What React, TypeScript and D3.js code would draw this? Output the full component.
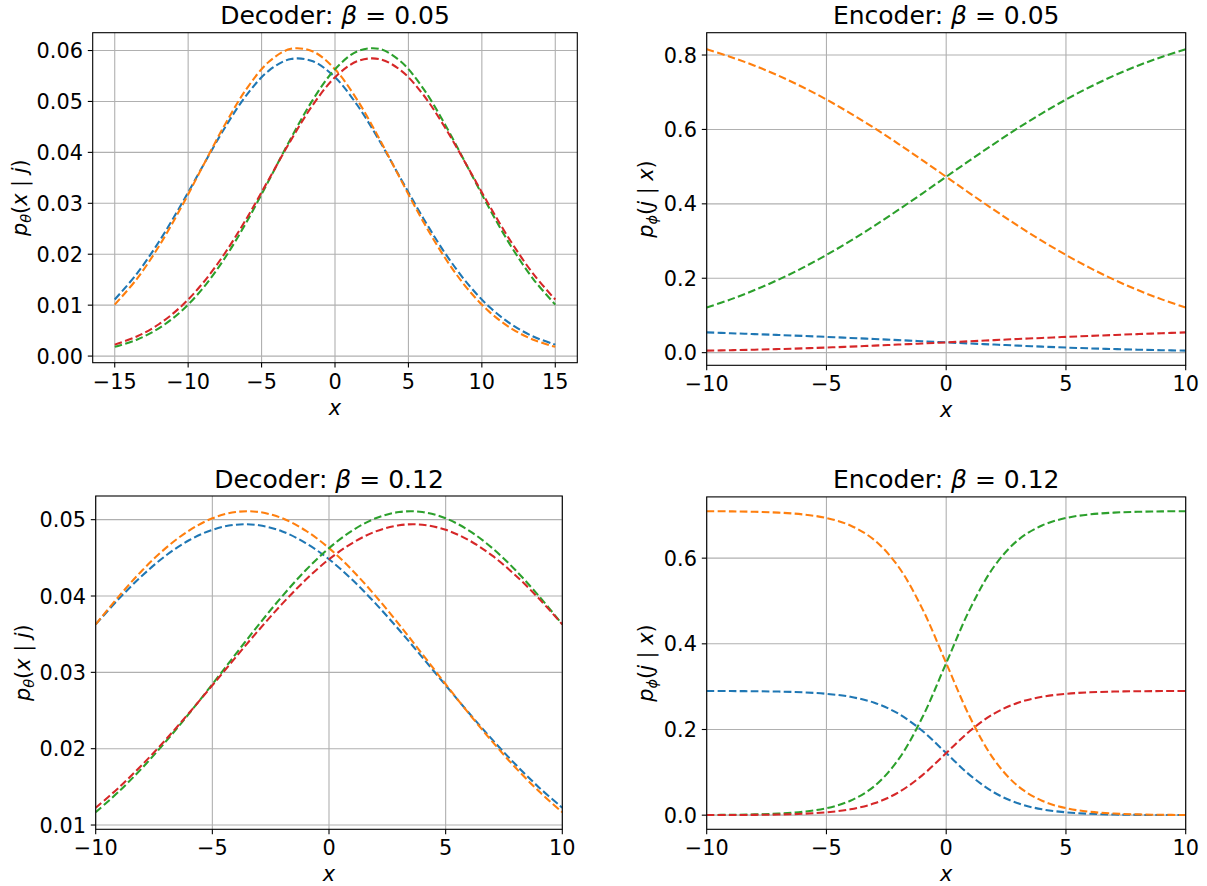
import React from "react";
import * as d3 from "d3";

const COLORS = ["#1f77b4", "#ff7f0e", "#2ca02c", "#d62728"];

// ---------- Decoder beta = 0.05 ----------
const dec05X = [-15, -13.5, -12, -10.5, -9, -7.5, -6, -4.5, -3, -1.5, 0, 1.5, 3, 4.5, 6, 7.5, 9, 10.5, 12, 13.5, 15];
const dec05Blue = [0.0111, 0.01615, 0.0224, 0.02961, 0.03732, 0.04484, 0.05135, 0.05606, 0.05834, 0.05788, 0.05474, 0.04935, 0.04241, 0.03474, 0.02713, 0.02019, 0.01433, 0.00969, 0.00625, 0.00384, 0.00225];
const dec05Orange = [0.0101, 0.01513, 0.02152, 0.02906, 0.03729, 0.04544, 0.05258, 0.05779, 0.06033, 0.05981, 0.05632, 0.05037, 0.04278, 0.03452, 0.02644, 0.01925, 0.0133, 0.00873, 0.00544, 0.00322, 0.00181];
const dec05Green = [0.00181, 0.00322, 0.00544, 0.00873, 0.0133, 0.01925, 0.02644, 0.03452, 0.04278, 0.05037, 0.05632, 0.05981, 0.06033, 0.05779, 0.05258, 0.04544, 0.03729, 0.02906, 0.02152, 0.01513, 0.0101];
const dec05Red = [0.00225, 0.00384, 0.00625, 0.00969, 0.01433, 0.02019, 0.02713, 0.03474, 0.04241, 0.04935, 0.05474, 0.05788, 0.05834, 0.05606, 0.05135, 0.04484, 0.03732, 0.02961, 0.0224, 0.01615, 0.0111];

// ---------- Encoder beta = 0.05 ----------
const encX = [-10, -9, -8, -7, -6, -5, -4, -3, -2, -1, 0, 1, 2, 3, 4, 5, 6, 7, 8, 9, 10];
const enc05Blue = [0.0545, 0.0522, 0.0499, 0.0475, 0.045, 0.0424, 0.0396, 0.0367, 0.0337, 0.0307, 0.0276, 0.0246, 0.0217, 0.0189, 0.0162, 0.0137, 0.0115, 0.0096, 0.008, 0.0066, 0.0055];
const enc05Orange = [0.8153, 0.7949, 0.7713, 0.7444, 0.714, 0.6803, 0.6433, 0.6036, 0.5614, 0.5175, 0.4727, 0.4277, 0.3836, 0.3409, 0.3004, 0.2626, 0.2278, 0.1963, 0.1682, 0.1432, 0.1214];
const enc05Green = [0.1214, 0.1432, 0.1682, 0.1963, 0.2278, 0.2626, 0.3004, 0.3409, 0.3836, 0.4277, 0.4727, 0.5175, 0.5614, 0.6036, 0.6433, 0.6803, 0.714, 0.7444, 0.7713, 0.7949, 0.8153];
const enc05Red = [0.0055, 0.0066, 0.008, 0.0096, 0.0115, 0.0137, 0.0162, 0.0189, 0.0217, 0.0246, 0.0276, 0.0307, 0.0337, 0.0367, 0.0396, 0.0424, 0.045, 0.0475, 0.0499, 0.0522, 0.0545];

// ---------- Decoder beta = 0.12 ----------
const dec12X = [-10, -9, -8, -7, -6, -5, -4, -3, -2, -1, 0, 1, 2, 3, 4, 5, 6, 7, 8, 9, 10];
const dec12Blue = [0.03628, 0.03966, 0.04269, 0.04528, 0.0473, 0.04867, 0.04934, 0.04927, 0.04846, 0.04694, 0.04481, 0.04212, 0.039, 0.03558, 0.03197, 0.0283, 0.02467, 0.02118, 0.01792, 0.01493, 0.01226];
const dec12Orange = [0.03629, 0.03999, 0.04337, 0.04627, 0.04857, 0.05018, 0.051, 0.051, 0.05018, 0.04857, 0.04627, 0.04337, 0.03999, 0.03629, 0.03239, 0.02845, 0.02459, 0.02092, 0.0175, 0.01441, 0.01167];
const dec12Green = [0.01167, 0.01441, 0.0175, 0.02092, 0.02459, 0.02845, 0.03239, 0.03629, 0.03999, 0.04337, 0.04627, 0.04857, 0.05018, 0.051, 0.051, 0.05018, 0.04857, 0.04627, 0.04337, 0.03999, 0.03629];
const dec12Red = [0.01226, 0.01493, 0.01792, 0.02118, 0.02467, 0.0283, 0.03197, 0.03558, 0.039, 0.04212, 0.04481, 0.04694, 0.04846, 0.04927, 0.04934, 0.04867, 0.0473, 0.04528, 0.04269, 0.03966, 0.03628];

// ---------- Encoder beta = 0.12 ----------
const enc12Blue = [0.2898, 0.2897, 0.2893, 0.2885, 0.2868, 0.2833, 0.2763, 0.2624, 0.2371, 0.197, 0.145, 0.093, 0.0529, 0.0276, 0.0137, 0.0067, 0.0032, 0.0015, 0.0007, 0.0003, 0.0002];
const enc12Orange = [0.7096, 0.7092, 0.7082, 0.7063, 0.7022, 0.6937, 0.6763, 0.6423, 0.5805, 0.4822, 0.355, 0.2278, 0.1295, 0.0677, 0.0337, 0.0163, 0.0078, 0.0037, 0.0018, 0.0008, 0.0004];
const enc12Green = [0.0004, 0.0008, 0.0018, 0.0037, 0.0078, 0.0163, 0.0337, 0.0677, 0.1295, 0.2278, 0.355, 0.4822, 0.5805, 0.6423, 0.6763, 0.6937, 0.7022, 0.7063, 0.7082, 0.7092, 0.7096];
const enc12Red = [0.0002, 0.0003, 0.0007, 0.0015, 0.0032, 0.0067, 0.0137, 0.0276, 0.0529, 0.093, 0.145, 0.197, 0.2371, 0.2624, 0.2763, 0.2833, 0.2868, 0.2885, 0.2893, 0.2897, 0.2898];

// ---------- ticks ----------
const xTicks15 = [-15, -10, -5, 0, 5, 10, 15];
const xTicks10 = [-10, -5, 0, 5, 10];
const yTicksDec05 = [0.0, 0.01, 0.02, 0.03, 0.04, 0.05, 0.06];
const yTicksEnc05 = [0.0, 0.2, 0.4, 0.6, 0.8];
const yTicksDec12 = [0.01, 0.02, 0.03, 0.04, 0.05];
const yTicksEnc12 = [0.0, 0.2, 0.4, 0.6];

const FONT = "DejaVu Sans";
const TICK_FS = 20.8;
const LABEL_FS = 20.8;
const TITLE_FS = 25;

type Cfg = {
  id: string;
  kind: "dec" | "enc";
  beta: string;
  xs: number[];
  series: number[][];
  xTicks: number[];
  yTicks: number[];
  yFmt: string;
  xDomain: [number, number];
  yDomain: [number, number];
  left: number;
  right: number;
  top: number;
  bottom: number;
  yLabelX: number;
};

const panels: Cfg[] = [
  {
    id: "p1", kind: "dec", beta: "0.05", xs: dec05X,
    series: [dec05Blue, dec05Orange, dec05Green, dec05Red],
    xTicks: xTicks15, yTicks: yTicksDec05, yFmt: ".2f",
    xDomain: [-16.5, 16.5], yDomain: [-0.0013, 0.0635],
    left: 92.7, right: 577.3, top: 32.7, bottom: 362.7, yLabelX: 27,
  },
  {
    id: "p2", kind: "enc", beta: "0.05", xs: encX,
    series: [enc05Blue, enc05Orange, enc05Green, enc05Red],
    xTicks: xTicks10, yTicks: yTicksEnc05, yFmt: ".1f",
    xDomain: [-10, 10], yDomain: [-0.034, 0.86],
    left: 706.7, right: 1185.7, top: 32.7, bottom: 365.3, yLabelX: 653,
  },
  {
    id: "p3", kind: "dec", beta: "0.12", xs: dec12X,
    series: [dec12Blue, dec12Orange, dec12Green, dec12Red],
    xTicks: xTicks10, yTicks: yTicksDec12, yFmt: ".2f",
    xDomain: [-10, 10], yDomain: [0.00944, 0.0531],
    left: 95.7, right: 562.3, top: 496, bottom: 829.3, yLabelX: 30,
  },
  {
    id: "p4", kind: "enc", beta: "0.12", xs: encX,
    series: [enc12Blue, enc12Orange, enc12Green, enc12Red],
    xTicks: xTicks10, yTicks: yTicksEnc12, yFmt: ".1f",
    xDomain: [-10, 10], yDomain: [-0.033, 0.743],
    left: 706.7, right: 1185.7, top: 496.9, bottom: 829.3, yLabelX: 653,
  },
];

function Panel({ c }: { c: Cfg }) {
  const x = d3.scaleLinear().domain(c.xDomain).range([c.left, c.right]);
  const y = d3.scaleLinear().domain(c.yDomain).range([c.bottom, c.top]);
  const line = d3
    .line<[number, number]>()
    .x((d) => x(d[0]))
    .y((d) => y(d[1]))
    .curve(d3.curveCatmullRom.alpha(0.5));
  const yf = d3.format(c.yFmt);
  const xf = d3.format("d");
  const cx = (c.left + c.right) / 2;
  const cy = (c.top + c.bottom) / 2;
  const tickLen = 4.9;
  const gridColor = "#b0b0b0";
  return (
    <g>
      <defs>
        <clipPath id={"clip-" + c.id}>
          <rect x={c.left} y={c.top} width={c.right - c.left} height={c.bottom - c.top} />
        </clipPath>
      </defs>
      {c.xTicks.map((t) => (
        <line key={"gx" + t} x1={x(t)} x2={x(t)} y1={c.top} y2={c.bottom} stroke={gridColor} strokeWidth={1.1} />
      ))}
      {c.yTicks.map((t) => (
        <line key={"gy" + t} x1={c.left} x2={c.right} y1={y(t)} y2={y(t)} stroke={gridColor} strokeWidth={1.1} />
      ))}
      <g clipPath={`url(#clip-${c.id})`}>
        {c.series.map((s, i) => (
          <path
            key={i}
            d={line(c.xs.map((xv, k) => [xv, s[k]] as [number, number])) || ""}
            fill="none"
            stroke={COLORS[i]}
            strokeWidth={2.08}
            strokeDasharray="7.7 3.3"
          />
        ))}
      </g>
      <rect x={c.left} y={c.top} width={c.right - c.left} height={c.bottom - c.top} fill="none" stroke="#000" strokeWidth={1.1} />
      {c.xTicks.map((t) => (
        <g key={"xt" + t}>
          <line x1={x(t)} x2={x(t)} y1={c.bottom} y2={c.bottom + tickLen} stroke="#000" strokeWidth={1.1} />
          <text x={x(t)} y={c.bottom + 26} textAnchor="middle" fontFamily={FONT} fontSize={TICK_FS} fill="#000">
            {xf(t)}
          </text>
        </g>
      ))}
      {c.yTicks.map((t) => (
        <g key={"yt" + t}>
          <line x1={c.left - tickLen} x2={c.left} y1={y(t)} y2={y(t)} stroke="#000" strokeWidth={1.1} />
          <text x={c.left - 9.8} y={y(t) + 7.5} textAnchor="end" fontFamily={FONT} fontSize={TICK_FS} fill="#000">
            {yf(t)}
          </text>
        </g>
      ))}
      <text x={cx} y={c.top - 8.5} textAnchor="middle" fontFamily={FONT} fontSize={TITLE_FS} fill="#000">
        <tspan>{c.kind === "dec" ? "Decoder: " : "Encoder: "}</tspan>
        <tspan fontStyle="italic">β</tspan>
        <tspan>{" = " + c.beta}</tspan>
      </text>
      <text x={cx} y={c.bottom + 52} textAnchor="middle" fontFamily={FONT} fontSize={LABEL_FS} fontStyle="italic" fill="#000">
        x
      </text>
      <text
        transform={`translate(${c.yLabelX},${cy}) rotate(-90)`}
        textAnchor="middle"
        fontFamily={FONT}
        fontSize={LABEL_FS}
        fill="#000"
      >
        <tspan fontStyle="italic">p</tspan>
        <tspan fontStyle="italic" fontSize={LABEL_FS * 0.7} dy={4}>
          {c.kind === "dec" ? "θ" : "ϕ"}
        </tspan>
        <tspan dy={-4}>(</tspan>
        <tspan fontStyle="italic">{c.kind === "dec" ? "x" : "j"}</tspan>
        <tspan>{" | "}</tspan>
        <tspan fontStyle="italic">{c.kind === "dec" ? "j" : "x"}</tspan>
        <tspan>)</tspan>
      </text>
    </g>
  );
}

export default function App() {
  return (
    <svg width={1207} height={886} style={{ position: "absolute", left: 0, top: 0, background: "#fff" }}>
      <rect x={0} y={0} width={1207} height={886} fill="#fff" />
      {panels.map((p) => (
        <Panel key={p.id} c={p} />
      ))}
    </svg>
  );
}
